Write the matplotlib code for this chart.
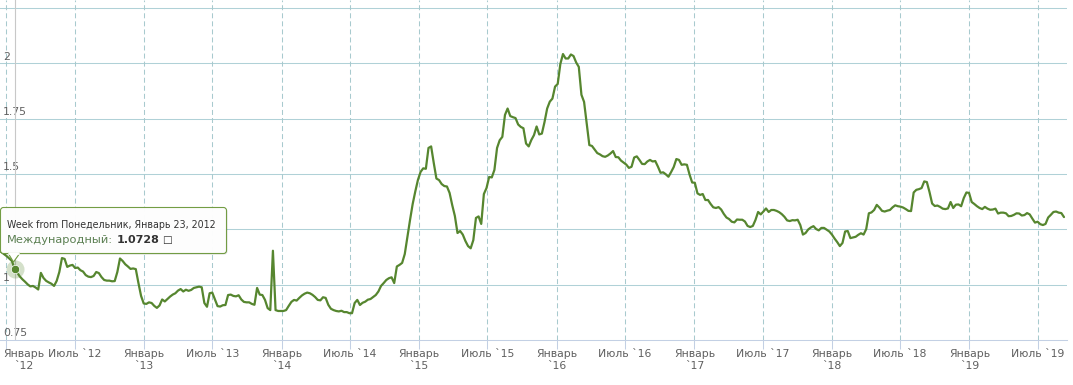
import matplotlib
matplotlib.use('Agg')
import matplotlib.pyplot as plt
import pandas as pd
from matplotlib.patches import FancyBboxPatch, Polygon
from matplotlib.transforms import blended_transform_factory, offset_copy

plt.rcParams['font.family'] = ['DejaVu Sans']
plt.rcParams['lines.scale_dashes'] = False

# ---------------- data ----------------
start_week = '2011-12-12'
values = [
    1.156, 1.147, 1.138, 1.129, 1.118, 1.107, 1.0728,
    1.055, 1.037, 1.024, 1.013, 1.001, 0.992, 0.994, 0.987, 0.978,
    1.053, 1.030, 1.017, 1.010, 1.004, 0.994, 1.017, 1.057, 1.120, 1.116,
    1.080, 1.086, 1.089, 1.075, 1.077, 1.065, 1.059, 1.043, 1.036, 1.034,
    1.039, 1.057, 1.052, 1.034, 1.021, 1.018, 1.018, 1.015, 1.016, 1.057,
    1.118, 1.107, 1.092, 1.082, 1.071, 1.073, 1.070, 1.007, 0.949, 0.915,
    0.913, 0.920, 0.917, 0.904, 0.895, 0.906, 0.933, 0.924, 0.935, 0.946,
    0.955, 0.961, 0.973, 0.980, 0.969, 0.977, 0.972, 0.976, 0.985, 0.988,
    0.991, 0.988, 0.917, 0.900, 0.961, 0.964, 0.933, 0.903, 0.901, 0.907,
    0.908, 0.953, 0.955, 0.949, 0.947, 0.952, 0.933, 0.922, 0.920, 0.920,
    0.913, 0.909, 0.985, 0.955, 0.953, 0.931, 0.894, 0.885, 1.153, 0.885,
    0.881, 0.881, 0.881, 0.885, 0.904, 0.922, 0.931, 0.928, 0.940, 0.951,
    0.959, 0.964, 0.961, 0.954, 0.944, 0.931, 0.929, 0.943, 0.940, 0.909,
    0.891, 0.885, 0.881, 0.879, 0.882, 0.876, 0.876, 0.871, 0.871, 0.917,
    0.931, 0.908, 0.918, 0.923, 0.932, 0.935, 0.944, 0.953, 0.969, 0.994,
    1.007, 1.021, 1.029, 1.033, 1.007, 1.082, 1.089, 1.098, 1.138, 1.215,
    1.292, 1.364, 1.421, 1.473, 1.509, 1.525, 1.523, 1.617, 1.624, 1.549,
    1.479, 1.472, 1.454, 1.445, 1.443, 1.414, 1.359, 1.310, 1.233, 1.242,
    1.226, 1.197, 1.174, 1.164, 1.201, 1.301, 1.308, 1.274, 1.409, 1.436,
    1.486, 1.484, 1.518, 1.617, 1.652, 1.667, 1.766, 1.795, 1.761, 1.756,
    1.752, 1.723, 1.712, 1.706, 1.637, 1.624, 1.653, 1.675, 1.714, 1.678,
    1.682, 1.734, 1.795, 1.826, 1.840, 1.894, 1.906, 1.996, 2.041, 2.021,
    2.021, 2.039, 2.032, 2.003, 1.983, 1.857, 1.825, 1.729, 1.630, 1.626,
    1.610, 1.594, 1.588, 1.580, 1.577, 1.583, 1.592, 1.603, 1.576, 1.575,
    1.560, 1.551, 1.542, 1.527, 1.532, 1.574, 1.579, 1.563, 1.545, 1.544,
    1.556, 1.563, 1.556, 1.558, 1.533, 1.505, 1.507, 1.498, 1.487, 1.508,
    1.531, 1.567, 1.563, 1.541, 1.543, 1.541, 1.497, 1.461, 1.460, 1.412,
    1.405, 1.409, 1.382, 1.382, 1.364, 1.349, 1.346, 1.350, 1.339, 1.319,
    1.303, 1.296, 1.284, 1.281, 1.294, 1.293, 1.293, 1.285, 1.265, 1.260,
    1.265, 1.292, 1.328, 1.317, 1.330, 1.344, 1.328, 1.337, 1.337, 1.333,
    1.327, 1.318, 1.306, 1.290, 1.287, 1.291, 1.290, 1.293, 1.269, 1.226,
    1.233, 1.249, 1.258, 1.264, 1.251, 1.245, 1.256, 1.256, 1.248, 1.240,
    1.226, 1.208, 1.192, 1.174, 1.188, 1.240, 1.242, 1.210, 1.213, 1.216,
    1.225, 1.232, 1.226, 1.251, 1.322, 1.326, 1.337, 1.360, 1.348, 1.333,
    1.330, 1.334, 1.337, 1.349, 1.358, 1.354, 1.352, 1.348, 1.341, 1.333,
    1.332, 1.416, 1.428, 1.431, 1.436, 1.466, 1.463, 1.418, 1.366, 1.355,
    1.357, 1.351, 1.343, 1.341, 1.344, 1.373, 1.346, 1.361, 1.362, 1.354,
    1.391, 1.416, 1.414, 1.373, 1.364, 1.354, 1.346, 1.341, 1.351, 1.343,
    1.338, 1.339, 1.343, 1.321, 1.325, 1.325, 1.322, 1.309, 1.310, 1.315,
    1.322, 1.321, 1.312, 1.314, 1.323, 1.317, 1.298, 1.280, 1.284, 1.273,
    1.269, 1.274, 1.303, 1.315, 1.328, 1.330, 1.325, 1.323, 1.305,
]

tick_dates = ['2012-01-01', '2012-07-01', '2013-01-01', '2013-07-01',
              '2014-01-01', '2014-07-01', '2015-01-01', '2015-07-01',
              '2016-01-01', '2016-07-01', '2017-01-01', '2017-07-01',
              '2018-01-01', '2018-07-01', '2019-01-01', '2019-07-01']
tick_labels = ['Январь\n`12', 'Июль `12', 'Январь\n`13', 'Июль `13',
               'Январь\n`14', 'Июль `14', 'Январь\n`15', 'Июль `15',
               'Январь\n`16', 'Июль `16', 'Январь\n`17', 'Июль `17',
               'Январь\n`18', 'Июль `18', 'Январь\n`19', 'Июль `19']
y_grid = [0.75, 1.0, 1.25, 1.5, 1.75, 2.0, 2.25]
# 1.25 label is hidden under the tooltip in the reference
y_label_values = [0.75, 1.0, 1.5, 1.75, 2.0]
y_labels = ['0.75', '1', '1.5', '1.75', '2']

hover_date = '2012-01-23'
hover_value = 1.0728
tip_line1 = 'Week from Понедельник, Январь 23, 2012'
tip_series = 'Международный:'
tip_value = '1.0728'
tip_unit = '\u25a1'

# ---------------- style ----------------
LINE = '#56862f'
HGRID = '#b0d1d7'
VGRID = '#a8cace'
AXIS = '#c3d0e4'
LABEL = '#606060'

W, H = 1073, 385
fig = plt.figure(figsize=(W / 100, H / 100), dpi=100)
fig.patch.set_facecolor('white')
ax = fig.add_axes([0, 45 / H, 1067 / W, 340 / H])
ax.set_facecolor('white')

dates = pd.date_range(start_week, periods=len(values), freq='W-MON')
tdates = pd.to_datetime(tick_dates)

ax.set_xlim(pd.Timestamp('2011-12-15 12:00'), pd.Timestamp('2019-09-17'))
ax.set_ylim(0.75, 2.285)

for s in ['top', 'right', 'left']:
    ax.spines[s].set_visible(False)
ax.spines['bottom'].set_color(AXIS)
ax.spines['bottom'].set_linewidth(0.75)
ax.spines['bottom'].set_zorder(3)

for yv in y_grid[1:]:
    ax.axhline(yv, color=HGRID, lw=0.75, zorder=1)
for d in tdates:
    ax.axvline(d, color=VGRID, lw=0.75, linestyle=(0, (3.6, 2.2)), zorder=1)

ax.set_yticks([])
ax.set_xticks(tdates)
ax.set_xticklabels([''] * len(tdates))
ax.tick_params(axis='x', length=6.5, width=0.75, color=AXIS, direction='out')

# x labels
trans_x = blended_transform_factory(ax.transData, ax.transAxes)
for i, (d, lab) in enumerate(zip(tdates, tick_labels)):
    if i == 0:
        tr = offset_copy(trans_x, fig=fig, x=-3, y=-9, units='dots')
        ha = 'left'
    else:
        tr = offset_copy(trans_x, fig=fig, x=0, y=-9, units='dots')
        ha = 'center'
    ax.text(d, 0, lab, transform=tr, ha=ha, va='top', multialignment='center',
            fontsize=7.8, color=LABEL, linespacing=1.3, clip_on=False)

# y labels
trans_y = blended_transform_factory(ax.transAxes, ax.transData)
tr_y = offset_copy(trans_y, fig=fig, x=3, y=1.5, units='dots')
for yv, lab in zip(y_label_values, y_labels):
    ax.text(0, yv, lab, transform=tr_y, ha='left', va='bottom',
            fontsize=7.8, color=LABEL, zorder=2)

# series line
ax.plot(dates, values, color=LINE, lw=1.6, zorder=4,
        solid_joinstyle='round', solid_capstyle='round')

# crosshair + hover marker
hd = pd.Timestamp(hover_date)
ax.axvline(hd, color='#c8c8c8', lw=0.8, zorder=2)
ax.plot([hd], [hover_value], 'o', ms=13, color=LINE, alpha=0.25,
        mec='none', zorder=5)
ax.plot([hd], [hover_value], 'o', ms=6, color=LINE, mec='white',
        mew=0.5, zorder=6)

# ---------------- tooltip overlay (pixel coordinates) ----------------
ov = fig.add_axes([0, 0, 1, 1], facecolor='none')
ov.set_xlim(0, W)
ov.set_ylim(H, 0)
ov.axis('off')
ov.set_zorder(10)

shadow = FancyBboxPatch((1.5, 208.5), 226, 46,
                        boxstyle='round,pad=0,rounding_size=3',
                        fc='#000000', ec='none', alpha=0.12)
ov.add_patch(shadow)
box = FancyBboxPatch((0.5, 207.5), 226, 46,
                     boxstyle='round,pad=0,rounding_size=3',
                     fc='white', ec='#6e9a3e', lw=0.8, alpha=0.97)
ov.add_patch(box)
ptr = Polygon([(8, 253.0), (13.5, 262), (20, 253.0)], closed=False,
              fc='white', ec='#6e9a3e', lw=0.8)
ov.add_patch(ptr)
ov.plot([8.6, 19.4], [253.5, 253.5], color='white', lw=1.2)

ov.text(7, 227.5, tip_line1, fontsize=6.85, color='#333333',
        va='baseline', ha='left')
ov.text(7, 243, tip_series, fontsize=8.2, color='#5b7f52',
        va='baseline', ha='left')
ov.text(117, 243, tip_value, fontsize=8.0, color='#333333',
        fontweight='bold', va='baseline', ha='left')
ov.text(162, 243, tip_unit, fontsize=7.5, color='#333333',
        va='baseline', ha='left')

fig.savefig('out.png', dpi=100, facecolor='white')
